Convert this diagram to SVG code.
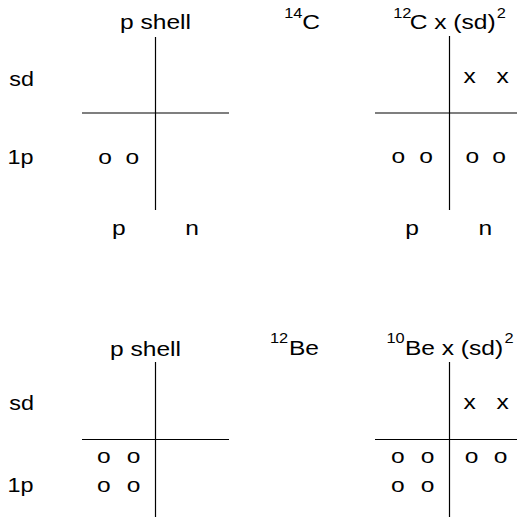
<svg xmlns="http://www.w3.org/2000/svg" width="517" height="520" viewBox="0 0 517 520">
<style>
text{font-family:"Liberation Sans",Arial,Helvetica,sans-serif;fill:#000}
.t{font-size:21px}
.l{font-size:20px}
.s{font-size:14px}
.m{font-size:21px;text-anchor:middle}
line{stroke:#000;stroke-width:1.2}
</style>
<rect width="517" height="520" fill="#fff"/>
<g id="connectors">
<line x1="155.5" y1="37" x2="155.5" y2="210"/>
<line x1="82" y1="113" x2="229" y2="113"/>
<line x1="449.5" y1="36" x2="449.5" y2="210"/>
<line x1="375" y1="113" x2="517" y2="113"/>
<line x1="155.5" y1="362" x2="155.5" y2="517"/>
<line x1="82" y1="439.5" x2="229" y2="439.5"/>
<line x1="449.5" y1="362" x2="449.5" y2="517"/>
<line x1="375" y1="439.5" x2="517" y2="439.5"/>
</g>
<g id="labels-top">
<text class="l" transform="matrix(1.17 0 0 1 9.3 86)">sd</text>
<text class="l" transform="matrix(1.17 0 0 1 7.5 164)">1p</text>
</g>
<g id="c14-pshell">
<text class="t" transform="matrix(1.17 0 0 1 120 29.3)">p shell</text>
<text class="m" transform="matrix(1.17 0 0 1 105 164)">o</text>
<text class="m" transform="matrix(1.17 0 0 1 132.3 164)">o</text>
<text class="m" transform="matrix(1.17 0 0 1 118.8 235)">p</text>
<text class="m" transform="matrix(1.17 0 0 1 192 235)">n</text>
</g>
<g id="c14-title">
<text class="s" transform="matrix(1.17 0 0 1 284.2 17.5)">14</text>
<text class="t" transform="matrix(1.17 0 0 1 302.3 29.3)">C</text>
</g>
<g id="c12-sd2">
<text class="s" transform="matrix(1.17 0 0 1 393.2 17.5)">12</text>
<text class="t" transform="matrix(1.17 0 0 1 409.7 29.3)">C x (sd)</text>
<text class="s" transform="matrix(1.17 0 0 1 496.8 17.5)">2</text>
<text class="m" transform="matrix(1.17 0 0 1 469.7 83.3)">x</text>
<text class="m" transform="matrix(1.17 0 0 1 502.7 83.3)">x</text>
<text class="m" transform="matrix(1.17 0 0 1 398.3 163)">o</text>
<text class="m" transform="matrix(1.17 0 0 1 426.2 163)">o</text>
<text class="m" transform="matrix(1.17 0 0 1 472.3 163)">o</text>
<text class="m" transform="matrix(1.17 0 0 1 499.2 163)">o</text>
<text class="m" transform="matrix(1.17 0 0 1 412.2 235)">p</text>
<text class="m" transform="matrix(1.17 0 0 1 485.3 235)">n</text>
</g>
<g id="labels-bottom">
<text class="l" transform="matrix(1.17 0 0 1 9.3 410)">sd</text>
<text class="l" transform="matrix(1.17 0 0 1 7.5 492)">1p</text>
</g>
<g id="be12-pshell">
<text class="t" transform="matrix(1.17 0 0 1 110 355.7)">p shell</text>
<text class="m" transform="matrix(1.17 0 0 1 103.8 463.3)">o</text>
<text class="m" transform="matrix(1.17 0 0 1 133.5 463.3)">o</text>
<text class="m" transform="matrix(1.17 0 0 1 103.8 491.7)">o</text>
<text class="m" transform="matrix(1.17 0 0 1 133.5 491.7)">o</text>
</g>
<g id="be12-title">
<text class="s" transform="matrix(1.17 0 0 1 269.9 343)">12</text>
<text class="t" transform="matrix(1.17 0 0 1 288.9 355)">Be</text>
</g>
<g id="be10-sd2">
<text class="s" transform="matrix(1.17 0 0 1 386.5 343)">10</text>
<text class="t" transform="matrix(1.17 0 0 1 404.9 355)">Be x (sd)</text>
<text class="s" transform="matrix(1.17 0 0 1 504.5 343)">2</text>
<text class="m" transform="matrix(1.17 0 0 1 469.7 409)">x</text>
<text class="m" transform="matrix(1.17 0 0 1 502.7 409)">x</text>
<text class="m" transform="matrix(1.17 0 0 1 397.8 463.3)">o</text>
<text class="m" transform="matrix(1.17 0 0 1 427.5 463.3)">o</text>
<text class="m" transform="matrix(1.17 0 0 1 471.7 463.3)">o</text>
<text class="m" transform="matrix(1.17 0 0 1 500.5 463.3)">o</text>
<text class="m" transform="matrix(1.17 0 0 1 397.8 491.7)">o</text>
<text class="m" transform="matrix(1.17 0 0 1 427.5 491.7)">o</text>
</g>
</svg>
